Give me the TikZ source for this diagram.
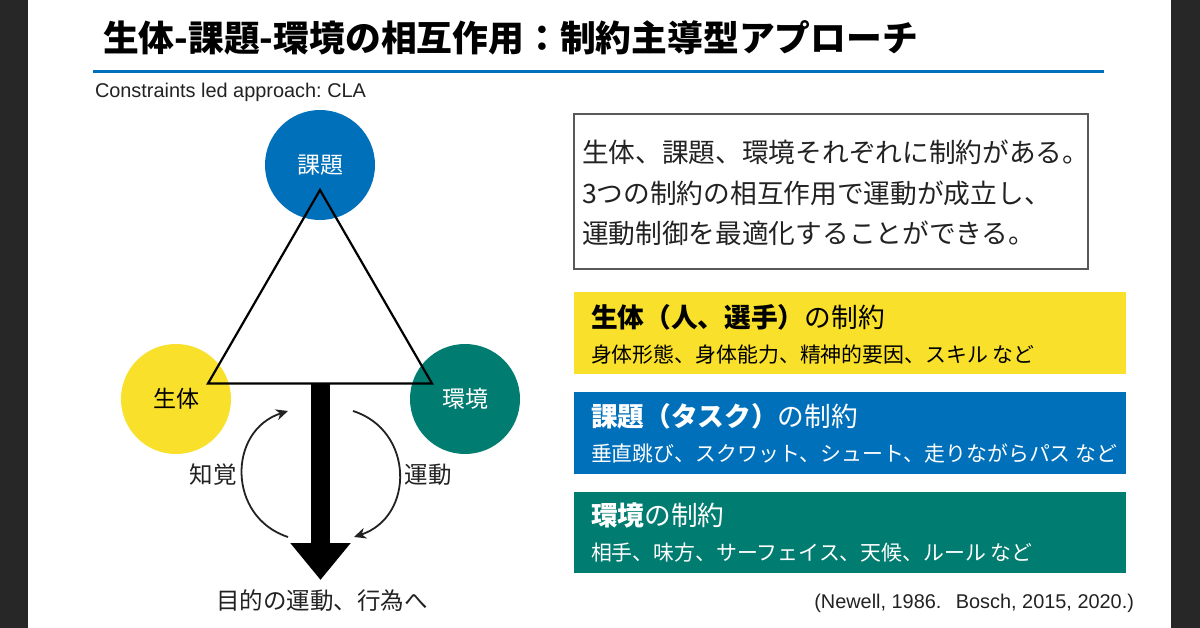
\documentclass[tikz,border=0pt]{standalone}
\usepackage{fontspec}
\setmainfont{Liberation Sans}
\newfontfamily\cjk{Noto Sans CJK JP}
\usetikzlibrary{arrows.meta,positioning}
\definecolor{darkbg}{HTML}{272727}
\definecolor{bodyc}{HTML}{F9E02B}
\definecolor{taskc}{HTML}{0070BA}
\definecolor{envc}{HTML}{007C70}
\definecolor{inkc}{HTML}{222222}
\newcommand{\zwl}{\symbol{"FF08}}
\newcommand{\zwr}{\symbol{"FF09}}
\newcommand{\zwc}{\symbol{"FF1A}}

\begin{document}
\begin{tikzpicture}[x=1pt,y=-1pt,node distance=99.5pt,on grid,
    every node/.style={inner sep=0pt,outer sep=0pt},
    circ/.style={circle,minimum size=110pt,font=\cjk\fontsize{23}{23}\selectfont},
    bar/.style={minimum width=551.5pt,minimum height=81.5pt},
    head/.style={anchor=west,font=\cjk\fontsize{26.7}{27}\selectfont},
    sub/.style={anchor=west,font=\cjk\fontsize{20.9}{21}\selectfont},
    lbl/.style={text=inkc,font=\cjk\fontsize{23.5}{24}\selectfont},
    body/.style={anchor=west,text=inkc,font=\cjk\fontsize{26.7}{27}\selectfont},
    latin/.style={text=inkc,font=\frenchspacing\fontsize{19.9}{20}\selectfont},
    cycarrow/.style={line width=1.8pt,inkc,-{Stealth[length=12pt,width=11pt]},looseness=1.3}]
      % page and dark side strips
      \fill[white] (0,0) rectangle (1200,628);
      \fill[darkbg] (0,0) rectangle (27.5,628);
      \fill[darkbg] (1171,0) rectangle (1200,628);
      \useasboundingbox (0,0) rectangle (1200,628);

      % title
      \node[anchor=west,font=\cjk\bfseries\fontsize{35.8}{36}\selectfont] (title) at (103,38)
        {生体-課題-環境の相互作用\zwc 制約主導型アプローチ};
      \coordinate (rule_l) at (93,72);
      \coordinate (rule_r) at (1104,72);
      \draw[taskc,line width=3pt] (rule_l) -- (rule_r);
      \node[latin,anchor=west] (cla) at (95,92.5) {Constraints led approach: CLA};

      % three circles
      \node[circ,fill=taskc,text=white] (task) at (320,165) {課題};
      \node[circ,fill=bodyc,text=black] (body) at (176,399) {生体};
      \node[circ,fill=envc,text=white] (env) at (465,399) {環境};

      % triangle
      \coordinate (t_top) at (320,190);
      \coordinate (t_l) at (208,383.5);
      \coordinate (t_r) at (432,383.5);
      \draw[line width=2.2pt,line join=miter] (t_top) -- (t_l) -- (t_r) -- cycle;

      % big arrow
      \node[lbl,anchor=center] (goal) at (322,601) {目的の運動、行為へ};
      \coordinate (a_top) at (320.5,383.5);
      \coordinate (a_tip) at (320.5,580);
      \draw[line width=19pt,-{Triangle[length=37pt,width=58pt]}] (a_top) -- (a_tip);

      % cycle arrows
      \coordinate (p_from) at (288,537);
      \coordinate (p_to) at (288,411);
      \coordinate (m_from) at (353,411);
      \coordinate (m_to) at (354,537);
      \draw[cycarrow] (p_from) to[bend left=72] (p_to);
      \draw[cycarrow] (m_from) to[bend left=72] (m_to);
      \node[lbl] (perc) at (213,475) {知覚};
      \node[lbl] (motor) at (428,475) {運動};

      % text box
      \draw[black!65,line width=1.3pt] (574,114) rectangle (1088,269);
      \node[body] (l_1) at (582,152) {生体、課題、環境それぞれに制約がある。};
      \node[body] (l_2) at (582,193) {3つの制約の相互作用で運動が成立し、};
      \node[body] (l_3) at (582,233) {運動制御を最適化することができる。};

      % constraint bars
      \node[bar,fill=bodyc] (b_body) at (849.75,333.25) {};
      \node[bar,fill=taskc] (b_task) [below=of b_body] {};
      \node[bar,fill=envc] (b_env) [below=of b_task] {};
      \node[head] (h_body) at (591,317.5) {\bfseries 生体\zwl 人、選手\zwr\mdseries の制約};
      \node[sub] (s_body) at (591,354.5) {身体形態、身体能力、精神的要因、スキル など};
      \node[head,text=white] (h_task) at (591,416.5) {\bfseries 課題\zwl タスク\zwr\mdseries の制約};
      \node[sub,text=white] (s_task) at (591,453.5) {垂直跳び、スクワット、シュート、走りながらパス など};
      \node[head,text=white] (h_env) at (591,515.5) {\bfseries 環境\mdseries の制約};
      \node[sub,text=white] (s_env) at (591,553) {相手、味方、サーフェイス、天候、ルール など};

      \node[latin,anchor=east] (cite) at (1134,603) {(Newell, 1986.\ \ \,Bosch, 2015, 2020.)};
    \end{tikzpicture}
\end{document}
